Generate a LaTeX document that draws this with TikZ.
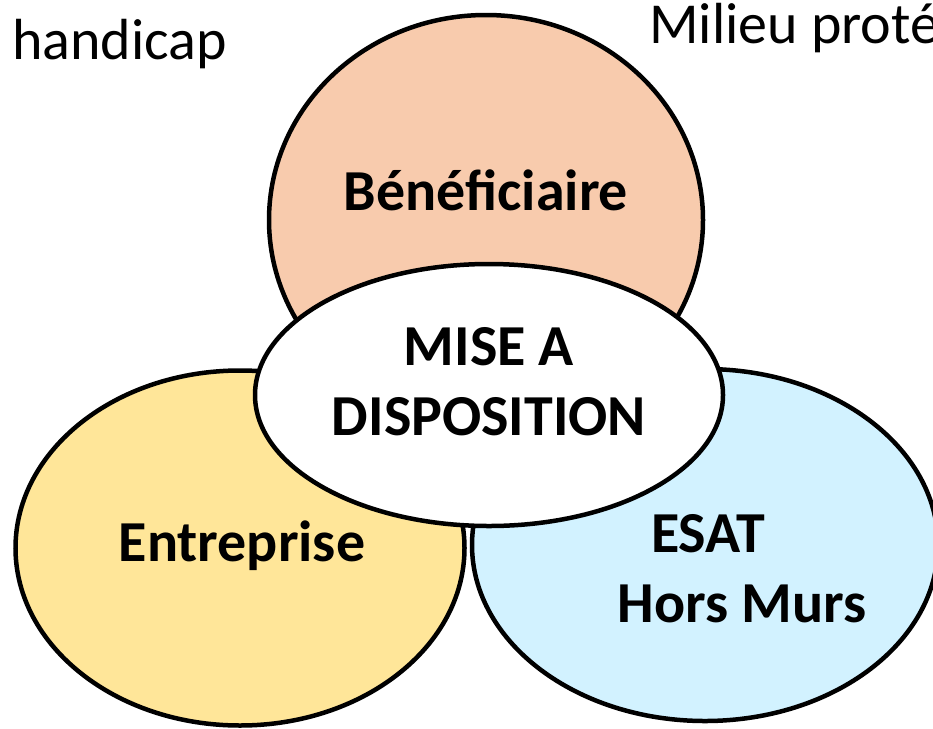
\documentclass[tikz,border=0pt]{standalone}
\usepackage{fontspec}
\setmainfont{Carlito}
\usetikzlibrary{shapes.geometric}

\definecolor{peche}{HTML}{F8CBAD}
\definecolor{jaune}{HTML}{FFE699}
\definecolor{ciel}{HTML}{D2F2FF}

\tikzset{
  bulle/.style={ellipse,draw=black,line width=4.5pt,inner sep=0pt},
  titre/.style={font=\bfseries\fontsize{58}{70}\selectfont,inner sep=0pt,anchor=base},
  legende/.style={font=\fontsize{58}{70}\selectfont,inner sep=0pt,anchor=base west}
}

\begin{document}
\begin{tikzpicture}[x=1pt,y=-1pt]

\clip (0,0) rectangle (933,728);
\fill [white] (0,0) rectangle (933,728);

% les trois partenaires
\node [bulle,fill=peche,minimum width=434pt,minimum height=410pt] (benef) at (486,220) {};
\node [bulle,fill=jaune,minimum width=449pt,minimum height=355pt] (entreprise) at (240,548) {};
\node [bulle,fill=ciel,minimum width=466pt,minimum height=352pt] (esat) at (705,545) {};

% au centre
\node [bulle,fill=white,minimum width=468pt,minimum height=262pt] (mise) at (489,395) {};

\node [titre] (tbenef) at (486,210) {Bénéficiaire};
\node [titre] (tmise) at (489,365) {MISE A};
\node [titre] (tdispo) at (489,435) {DISPOSITION};
\node [titre] (tentreprise) at (242,561) {Entreprise};
\node [titre] (tesat) at (708,552) {ESAT};
\node [titre] (thors) at (742,622) {Hors Murs};

\node [legende] (handicap) at (12,59) {handicap};
\node [legende] (milieu) at (649,43) {Milieu proté};

\end{tikzpicture}
\end{document}
